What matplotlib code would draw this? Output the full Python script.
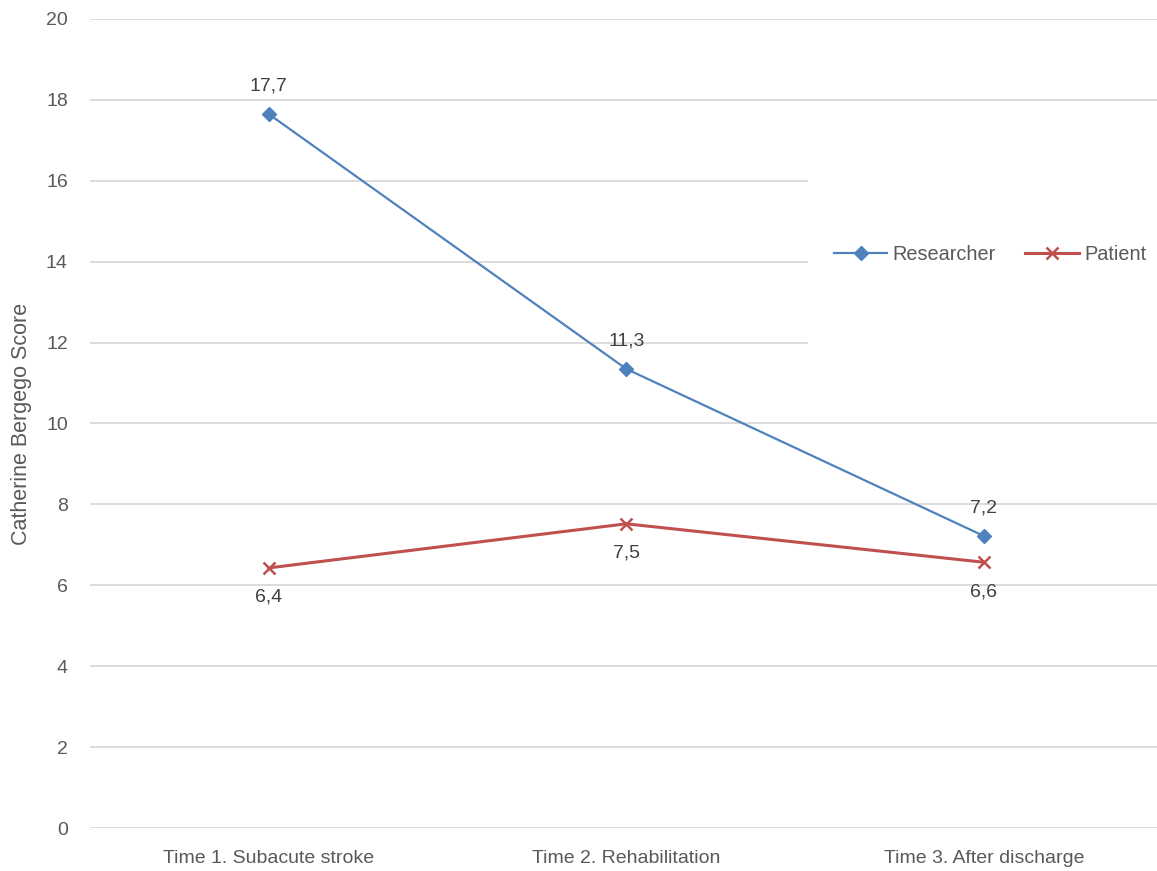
import matplotlib
matplotlib.use("Agg")
import matplotlib.pyplot as plt
from matplotlib.patches import Rectangle

categories = ["Time 1. Subacute stroke", "Time 2. Rehabilitation", "Time 3. After discharge"]
researcher = [17.65, 11.35, 7.22]
patient = [6.43, 7.52, 6.57]
researcher_labels = ["17,7", "11,3", "7,2"]
patient_labels = ["6,4", "7,5", "6,6"]
yticks = [0, 2, 4, 6, 8, 10, 12, 14, 16, 18, 20]

plt.rcParams['font.family'] = ["Liberation Sans", "DejaVu Sans"]

W, H = 1157, 871
fig = plt.figure(figsize=(W / 100, H / 100), dpi=100)
left, right, bottom, top = 90, 1157, 828, 19
ax = fig.add_axes([left / W, (H - bottom) / H, (right - left) / W, (bottom - top) / H])

x = list(range(len(categories)))
blue = "#4F81BD"
red = "#C0504D"
ax.plot(x, researcher, color=blue, lw=1.6, marker="D", ms=7, label="Researcher", zorder=4)
ax.plot(x, patient, color=red, lw=2.2, marker="x", ms=8, mew=1.8, label="Patient", zorder=4)

for xi, v, t in zip(x, researcher, researcher_labels):
    ax.annotate(t, (xi, v), xytext=(0, 14), textcoords="offset points", ha="center", va="bottom",
                fontsize=14, color="#404040")
for xi, v, t in zip(x, patient, patient_labels):
    ax.annotate(t, (xi, v), xytext=(0, -15), textcoords="offset points", ha="center", va="top",
                fontsize=14, color="#404040")

ax.set_xlim(-0.5, 2.5 - 5.5 / 357.5)
ax.set_ylim(0, 20)
ax.set_yticks(yticks)
ax.set_xticks(x)
ax.set_xticklabels(categories)
ax.grid(axis="y", color="#D9D9D9", lw=1.3, zorder=0)
ax.set_axisbelow(True)
for s in ax.spines.values():
    s.set_visible(False)
ax.tick_params(axis="both", length=0, labelsize=14, labelcolor="#595959")
ax.tick_params(axis="y", pad=16)
ax.tick_params(axis="x", pad=16)
ax.set_ylabel("Catherine Bergego Score", fontsize=15.5, color="#595959", labelpad=10)

# white legend area covering gridlines
fig.patches.append(Rectangle((808 / W, (H - 352) / H), (W - 808) / W, (352 - 172) / H,
                             transform=fig.transFigure, facecolor="white", edgecolor="none", zorder=1))
leg = fig.legend(loc="center", bbox_to_anchor=(990 / W, (H - 254) / H), ncol=2, frameon=False,
                 fontsize=14.3, labelcolor="#595959", handlelength=2.7, handletextpad=0.25,
                 columnspacing=1.5)
leg.set_zorder(5)

fig.savefig("out.png", dpi=100)
